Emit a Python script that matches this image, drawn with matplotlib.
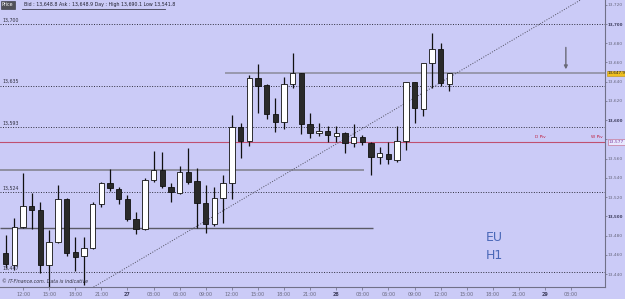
import matplotlib
matplotlib.use("Agg")
import matplotlib.pyplot as plt
from matplotlib.ticker import FixedLocator, FuncFormatter

# ---------------- data ----------------
opens = [13462.4, 13449.6, 13489.4, 13510.9, 13506.8, 13449.6, 13473.5, 13518.2, 13463.4, 13458.9,
         13467.3, 13513.0, 13534.5, 13528.3, 13518.2, 13497.4, 13486.7, 13537.9, 13548.3, 13530.9,
         13524.7, 13546.5, 13536.9, 13513.7, 13491.9, 13518.9, 13534.5, 13593.3, 13578.4, 13643.6,
         13636.6, 13606.2, 13597.9, 13637.3, 13648.6, 13596.1, 13586.4, 13588.8, 13583.9, 13586.4,
         13576.0, 13582.3, 13576.4, 13561.8, 13565.2, 13558.7, 13578.4, 13640.0, 13611.7, 13659.2,
         13673.7, 13637.3]
highs = [13480.8, 13498.4, 13544.9, 13524.4, 13515.1, 13486.0, 13532.7, 13519.5, 13478.7, 13478.7,
         13515.4, 13536.2, 13549.3, 13530.9, 13522.3, 13505.0, 13540.0, 13568.4, 13567.3, 13535.1,
         13552.5, 13570.9, 13550.7, 13532.7, 13530.9, 13543.1, 13605.5, 13596.8, 13647.0, 13658.1,
         13637.3, 13622.8, 13644.6, 13669.6, 13648.8, 13607.2, 13596.8, 13594.0, 13594.5, 13588.1,
         13595.9, 13584.7, 13577.7, 13572.5, 13577.7, 13594.0, 13640.0, 13640.0, 13659.2, 13691.0,
         13680.6, 13648.8]
lows = [13446.5, 13444.4, 13488.5, 13487.0, 13441.3, 13425.7, 13472.4, 13458.9, 13443.7, 13428.8,
        13466.2, 13509.9, 13526.2, 13513.0, 13495.6, 13481.5, 13486.0, 13535.5, 13529.3, 13515.4,
        13523.4, 13533.8, 13487.7, 13483.2, 13490.1, 13493.6, 13517.9, 13560.5, 13573.2, 13607.8,
        13601.3, 13588.1, 13590.6, 13633.8, 13585.7, 13581.0, 13583.6, 13577.4, 13577.7, 13565.7,
        13572.5, 13574.3, 13543.1, 13554.5, 13554.5, 13556.1, 13569.1, 13596.8, 13604.7, 13633.2,
        13635.9, 13630.7]
closes = [13450.6, 13489.4, 13510.9, 13506.8, 13449.6, 13473.5, 13518.2, 13462.4, 13458.2, 13467.3,
          13513.0, 13534.8, 13529.1, 13518.5, 13497.1, 13486.7, 13537.9, 13548.3, 13531.7, 13525.1,
          13545.9, 13536.2, 13513.7, 13491.9, 13519.5, 13534.5, 13593.3, 13578.7, 13643.6, 13635.9,
          13606.2, 13598.5, 13637.3, 13648.6, 13596.1, 13587.1, 13589.3, 13584.7, 13586.4, 13576.0,
          13582.3, 13577.1, 13561.5, 13566.0, 13559.4, 13578.1, 13640.0, 13612.4, 13659.2, 13673.7,
          13638.4, 13648.8]

# time axis: candle index -> label
tick_idx = [2, 5, 8, 11, 14, 17, 20, 23, 26, 29, 32, 35, 38, 41, 44, 47, 50, 53, 56, 59, 62, 65]
tick_labels = ["12:00", "15:00", "18:00", "21:00", "27", "03:00", "06:00", "09:00", "12:00", "15:00",
               "18:00", "21:00", "28", "03:00", "06:00", "09:00", "12:00", "15:00", "18:00", "21:00",
               "29", "03:00"]

price_ticks = [13440, 13460, 13480, 13500, 13520, 13540, 13560, 13580, 13600, 13620, 13640, 13660, 13680, 13700, 13720]
hidden_ticks = [13580]
bold_ticks = [13500, 13600, 13700]

dotted_levels = [13700, 13636, 13593, 13525, 13442]
dotted_labels = ["13,700", "13,635", "13,593", "13,524", "13,447"]
pivot_level = 13577.5
bid_level = 13648.8
support_levels = [13548.0, 13488.0]

trend_pts_x = [9.6, 66.1]
trend_pts_y = [13424.0, 13725.0]

header = "Bid : 13,648.8 Ask : 13,648.9 Day : High 13,690.1 Low 13,541.8"

# ---------------- figure ----------------
BG = "#cbcbf7"
fig = plt.figure(figsize=(6.25, 2.99), dpi=100, facecolor=BG)
ax = fig.add_axes([0, 12 / 299, 605 / 625, 287 / 299], facecolor=BG)
ax.set_xlim(-0.655, 68.9)
ax.set_ylim(13426.7, 13724.9)

# dotted levels
for lv, lab in zip(dotted_levels, dotted_labels):
    ax.axhline(lv, color="#303040", lw=0.7, ls=(0, (1, 1.6)), zorder=1)
    ax.text(0.004, lv + 1.5, lab, transform=ax.get_yaxis_transform(), fontsize=3.4,
            color="#303040", va="bottom", ha="left")

# pivot line
ax.axhline(pivot_level, color="#c05070", lw=0.8, zorder=1)
ax.text(61.5, pivot_level + 2.5, "D Piv", fontsize=3.1, color="#c02040", ha="center", va="bottom")
ax.text(68.0, pivot_level + 2.5, "W Piv", fontsize=3.1, color="#c02040", ha="center", va="bottom")

# gray support / bid lines
ax.hlines(bid_level, 25.2, 68.9, color="#8a8a9a", lw=1.1, zorder=1)
ax.hlines(support_levels[0], -0.655, 41.2, color="#8a8a9a", lw=1.3, zorder=1)
ax.hlines(support_levels[1], -0.655, 42.2, color="#5a5a66", lw=1.0, zorder=1)

# trend line
ax.plot(trend_pts_x, trend_pts_y, color="#505060", lw=0.7, ls=(0, (1, 1.6)), zorder=1)

# candles
w = 0.62
for i, (o, h, l, c) in enumerate(zip(opens, highs, lows, closes)):
    ax.vlines(i, l, h, color="#111111", lw=0.9, zorder=2)
    bull = c >= o
    bottom = min(o, c)
    height = max(abs(c - o), 0.8)
    ax.bar(i, height, bottom=bottom, width=w, color="white" if bull else "#2a2a2a",
           edgecolor="#111111", linewidth=0.6, zorder=3)

# arrow
ax.annotate("", xy=(64.4, 13650.0), xytext=(64.4, 13678.5),
            arrowprops=dict(arrowstyle="-|>", color="#6a6a78", lw=1.0, mutation_scale=5))

# EU / H1
ax.text(56.2, 13477.7, "EU", fontsize=9, color="#4a68b8", ha="center", va="center")
ax.text(56.2, 13459.0, "H1", fontsize=9, color="#4a68b8", ha="center", va="center")

# axes styling
ax.yaxis.tick_right()
ax.yaxis.set_major_locator(FixedLocator(price_ticks))
ax.yaxis.set_major_formatter(FuncFormatter(lambda v, p: "" if round(v) in hidden_ticks else f"{int(round(v)):,}"))
ax.tick_params(axis="y", length=1.5, width=0.5, colors="#6a6a80", labelsize=3.2, pad=0.6)
for lbl, v in zip(ax.get_yticklabels(), price_ticks):
    if v in bold_ticks:
        lbl.set_fontweight("bold")
        lbl.set_fontsize(2.9)
        lbl.set_color("#404060")
ax.xaxis.set_major_locator(FixedLocator(tick_idx))
ax.set_xticklabels(tick_labels)
ax.tick_params(axis="x", length=2, width=0.5, colors="#6a6a80", labelsize=3.5, pad=1.5)
for lbl, t in zip(ax.get_xticklabels(), tick_labels):
    if len(t) == 2:
        lbl.set_fontweight("bold")
        lbl.set_color("#404060")
for s in ("top", "left"):
    ax.spines[s].set_visible(False)
ax.spines["right"].set_color("#707088")
ax.spines["bottom"].set_color("#707088")
ax.spines["right"].set_linewidth(0.8)
ax.spines["bottom"].set_linewidth(0.8)

# right highlighted labels
ax.text(1.004, bid_level, "13,647.9", transform=ax.get_yaxis_transform(), fontsize=3.0,
        color="#202020", va="center", ha="left",
        bbox=dict(boxstyle="square,pad=0.12", fc="#f0c020", ec="#c09010", lw=0.4), clip_on=False)
ax.text(1.006, pivot_level, "13,577", transform=ax.get_yaxis_transform(), fontsize=3.2,
        color="#8040a0", va="center", ha="left",
        bbox=dict(boxstyle="square,pad=0.15", fc="#e8e8ff", ec="#c06080", lw=0.4), clip_on=False)

# header
fig.text(2 / 625, 1 - 5 / 299, "Price", fontsize=3.4, color="white", va="center", ha="left",
         bbox=dict(boxstyle="square,pad=0.25", fc="#505058", ec="#303038", lw=0.4))
fig.text(24 / 625, 1 - 4.5 / 299, header, fontsize=3.4, color="#202030", va="center", ha="left")
fig.add_artist(plt.Line2D([22 / 625, 165 / 625], [1 - 9 / 299, 1 - 9 / 299], color="#404050", lw=0.6))

# watermark
ax.text(0.004, 0.012, "\u00a9 IT-Finance.com. Data is indicative", transform=ax.transAxes,
        fontsize=3.4, color="#303040", ha="left", va="bottom", fontstyle="italic")

fig.savefig("out.png", dpi=100, facecolor=BG)
